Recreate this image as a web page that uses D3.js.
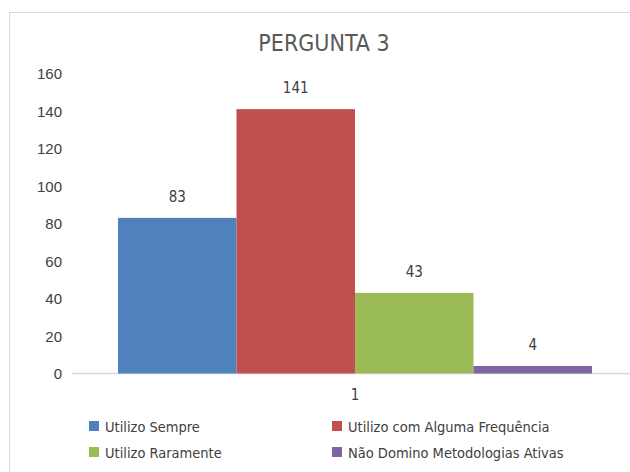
<!DOCTYPE html>
<html>
<head>
<meta charset="utf-8">
<script src="https://cdn.jsdelivr.net/npm/d3@7"></script>
<style>
    body { margin: 0; background: #fff; }
    svg { display: block; font-family: "DejaVu Sans Condensed", "Liberation Sans Narrow", sans-serif; }
    .tick text, .label, .cat { fill: #404040; font-size: 15px; }
    .legend text { fill: #404040; font-size: 14.5px; }
</style>
</head>
<body>
<script>
var categories = ['1'];
var series = ['Utilizo Sempre', 'Utilizo com Alguma Frequência', 'Utilizo Raramente', 'Não Domino Metodologias Ativas'];
var values = [83, 141, 43, 4];
var colors = ['#4f81bd', '#c0504d', '#9bbb59', '#8064a2'];
var yTicks = [0, 20, 40, 60, 80, 100, 120, 140, 160];

var width = 630,
    height = 472;

var svg = d3.select('body')
    .append('svg')
    .attr('width', width)
    .attr('height', height);

// chart frame, cut off on the right and bottom like the screenshot
svg.append('rect')
    .attr('x', 9.5)
    .attr('y', 12.5)
    .attr('width', 700)
    .attr('height', 500)
    .attr('fill', '#fff')
    .attr('stroke', '#d9d9d9');

svg.append('text')
    .attr('x', 324)
    .attr('y', 51)
    .attr('text-anchor', 'middle')
    .style('font-size', '23px')
    .style('fill', '#595959')
    .text('PERGUNTA 3');

var y = d3.scaleLinear()
    .domain([0, 160])
    .range([373.5, 73.5]);

var x0 = d3.scaleBand()
    .domain(categories)
    .range([72, 638])
    .paddingInner(0)
    .paddingOuter(0.097);

var x1 = d3.scaleBand()
    .domain(series)
    .range([0, x0.bandwidth()]);

var yAxis = svg.append('g')
    .attr('transform', 'translate(64,0)')
    .call(d3.axisLeft(y).tickValues(yTicks).tickSize(0).tickPadding(2));
yAxis.select('.domain').remove();
yAxis.selectAll('text').attr('font-family', null).attr('font-size', null).attr('dy', '0.34em');

// baseline
svg.append('line')
    .attr('x1', x0.range()[0])
    .attr('x2', x0.range()[1])
    .attr('y1', y(0))
    .attr('y2', y(0))
    .attr('stroke', '#d9d9d9')
    .attr('stroke-width', 1.5);

var g = svg.append('g')
    .attr('transform', 'translate(' + x0(categories[0]) + ',0)');

var data = series.map((s, i) => ({ name: s, value: values[i], color: colors[i] }));

g.selectAll('rect')
    .data(data).enter()
    .append('rect')
    .attr('x', d => x1(d.name))
    .attr('y', d => y(d.value))
    .attr('width', x1.bandwidth())
    .attr('height', d => y(0) - y(d.value))
    .attr('fill', d => d.color);

g.selectAll('.label')
    .data(data).enter()
    .append('text')
    .attr('class', 'label')
    .attr('x', d => x1(d.name) + x1.bandwidth() / 2)
    .attr('y', d => y(d.value) - 16)
    .attr('text-anchor', 'middle')
    .text(d => d.value);

svg.append('text')
    .attr('class', 'cat')
    .attr('x', x0(categories[0]) + x0.bandwidth() / 2)
    .attr('y', 400)
    .attr('text-anchor', 'middle')
    .text(categories[0]);

// legend, two columns
var legend = svg.append('g').attr('class', 'legend')
    .selectAll('g')
    .data(data).enter()
    .append('g')
    .attr('transform', (d, i) => 'translate(' + (i % 2 ? 332 : 89) + ',' + (i < 2 ? 421 : 447) + ')');

legend.append('rect')
    .attr('width', 10)
    .attr('height', 10)
    .attr('fill', d => d.color);

legend.append('text')
    .attr('x', 16)
    .attr('y', 10.5)
    .text(d => d.name);
</script>
</body>
</html>
